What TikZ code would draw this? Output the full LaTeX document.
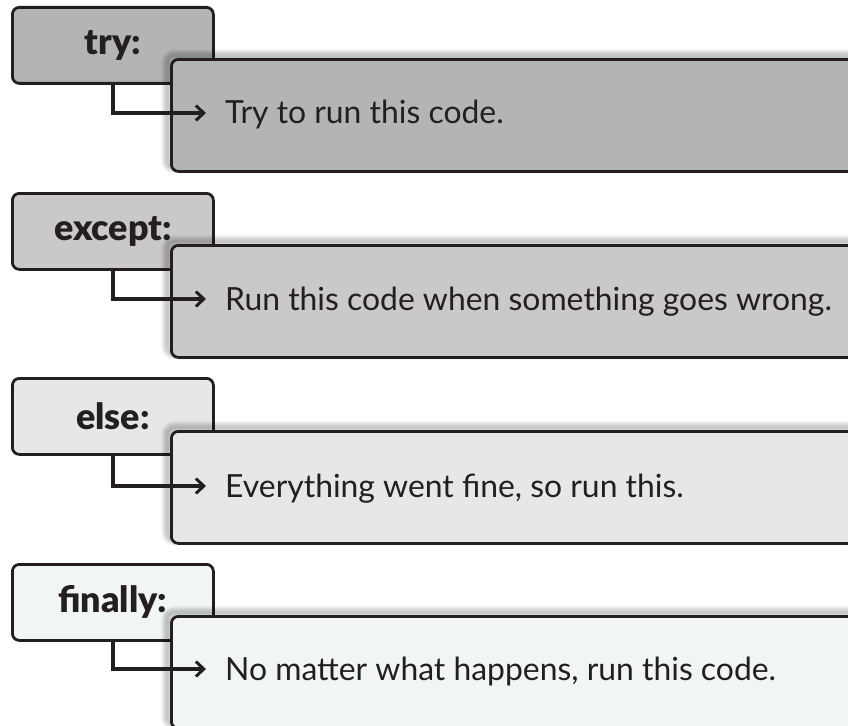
\documentclass[tikz,border=0pt]{standalone}
\usepackage{fontspec}
\setmainfont{Lato}
\IfFontExistsTF{Lato Black}{\newfontfamily\keyfont{Lato Black}}{\newfontfamily\keyfont{Lato}[UprightFont=*-Bold]}
\usetikzlibrary{arrows.meta}
\definecolor{ink}{HTML}{231F20}
\definecolor{trygray}{HTML}{B3B4B3}
\definecolor{exceptgray}{HTML}{CAC8C9}
\definecolor{elsegray}{HTML}{E6E7E7}
\definecolor{finallygray}{HTML}{F2F5F6}
\tikzset{
  keybox/.style={draw=ink, line width=2.8pt, rounded corners=7pt, anchor=north west,
    minimum width=201bp, minimum height=76bp, inner sep=0pt,
    text=ink, font=\keyfont\fontsize{36}{40}\selectfont},
  haze/.style={preaction={draw=black, draw opacity=0.06, line width=#1,
    transform canvas={xshift=-4pt, yshift=4pt}}},
  codebox/.style={draw=ink, line width=2.8pt, rounded corners=7pt, anchor=north west,
    minimum width=700bp, minimum height=112bp,
    haze=12pt, haze=9pt, haze=6pt, haze=3pt},
  note/.style={anchor=base west, inner sep=0pt, text=ink, font=\fontsize{32}{36}\selectfont},
  conn/.style={draw=ink, line width=3.5pt, -{Straight Barb[length=8pt,width=15pt,line width=3pt]}}
}
\begin{document}
\begin{tikzpicture}[x=1bp,y=-1bp]
\useasboundingbox (0,0) rectangle (848,726);

% try block
\node[keybox, fill=trygray] (trykey) at (11,6) {try:};
\node[codebox, fill=trygray] (trybox) at (170,58) {};
\coordinate (tryend) at (206,113);
\draw[conn] (trykey.south) |- (tryend);
\node[note] (trytxt) at (225,124) {Try to run this code.};

% except block
\node[keybox, fill=exceptgray] (exceptkey) at (11,192) {except:};
\node[codebox, fill=exceptgray] (exceptbox) at (170,244) {};
\coordinate (exceptend) at (206,299);
\draw[conn] (exceptkey.south) |- (exceptend);
\node[note] (excepttxt) at (225,310) {Run this code when something goes wrong.};

% else block
\node[keybox, fill=elsegray] (elsekey) at (11,377) {else:};
\node[codebox, fill=elsegray] (elsebox) at (170,430) {};
\coordinate (elseend) at (206,486);
\draw[conn] (elsekey.south) |- (elseend);
\node[note] (elsetxt) at (225,497) {Everything went fine, so run this.};

% finally block
\node[keybox, fill=finallygray] (finallykey) at (11,563) {finally:};
\node[codebox, fill=finallygray] (finallybox) at (170,615) {};
\coordinate (finallyend) at (206,669);
\draw[conn] (finallykey.south) |- (finallyend);
\node[note] (finallytxt) at (225,680) {No matter what happens, run this code.};
\end{tikzpicture}
\end{document}
